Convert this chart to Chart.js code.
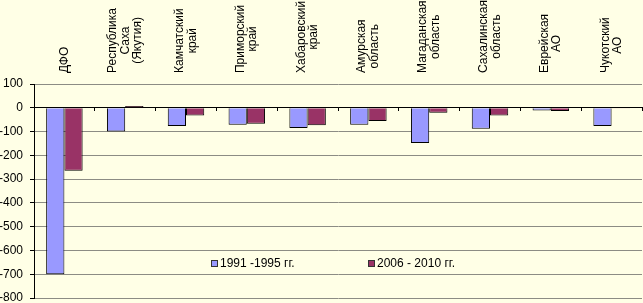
<!DOCTYPE html>
<html lang="ru">
<head>
    <meta charset="UTF-8">
    <title>Изменение численности населения ДФО</title>
    <script src="https://cdn.jsdelivr.net/npm/chart.js"></script>
    <style>
        body {
            margin: 0;
            background-color: #ffffe6;
        }
        .chart-container {
            width: 643px;
            height: 303px;
        }
    </style>
</head>
<body>
    <div class="chart-container">
        <canvas id="chart"></canvas>
    </div>

    <script>
        const regions = [
            ['ДФО'],
            ['Республика', 'Саха', '(Якутия)'],
            ['Камчатский', 'край'],
            ['Приморский', 'край'],
            ['Хабаровский', 'край'],
            ['Амурская', 'область'],
            ['Магаданская', 'область'],
            ['Сахалинская', 'область'],
            ['Еврейская', 'АО'],
            ['Чукотский', 'АО']
        ];
        const seriesNames = ['1991 -1995 гг.', '2006 - 2010 гг.'];
        const values1991 = [-700, -100, -77, -71, -85, -71, -148, -88, -11, -77];
        const values2006 = [-265, 7, -32, -67, -74, -56, -21, -32, -14, -3];
        const yMin = -800;
        const yMax = 100;
        const yStep = 100;

        const FONT = '"Liberation Sans", Arial, sans-serif';

        // rotated, centred multi-line category names above the plot
        const categoryLabels = {
            id: 'categoryLabels',
            afterDraw(chart) {
                const ctx = chart.ctx;
                const xScale = chart.scales.x;
                ctx.save();
                ctx.font = '12px ' + FONT;
                ctx.fillStyle = '#000';
                ctx.textAlign = 'center';
                ctx.textBaseline = 'middle';
                regions.forEach((lines, i) => {
                    const px = xScale.getPixelForValue(i);
                    const w = Math.max(...lines.map(l => ctx.measureText(l).width));
                    ctx.save();
                    ctx.translate(px, chart.chartArea.top - 11);
                    ctx.rotate(-Math.PI / 2);
                    lines.forEach((l, j) => {
                        ctx.fillText(l, w / 2, (j - (lines.length - 1) / 2) * 12.5);
                    });
                    ctx.restore();
                });
                ctx.restore();
            }
        };

        // legend sits inside the plot area, near the bottom
        const innerLegend = {
            id: 'innerLegend',
            afterDraw(chart) {
                const ctx = chart.ctx;
                const area = chart.chartArea;
                const y = area.bottom - 34;
                const xs = [area.left + 177, area.left + 334];
                ctx.save();
                ctx.font = '12px ' + FONT;
                ctx.textBaseline = 'middle';
                ctx.textAlign = 'left';
                chart.data.datasets.forEach((ds, i) => {
                    ctx.fillStyle = ds.backgroundColor;
                    ctx.fillRect(xs[i] + 0.5, y - 3.5, 6, 6);
                    ctx.strokeStyle = '#333';
                    ctx.lineWidth = 1;
                    ctx.strokeRect(xs[i] + 0.5, y - 3.5, 6, 6);
                    ctx.fillStyle = '#000';
                    ctx.fillText(ds.label, xs[i] + 9, y);
                });
                ctx.restore();
            }
        };

        new Chart(document.getElementById('chart'), {
            type: 'bar',
            data: {
                labels: regions.map(r => r.join(' ')),
                datasets: [
                    {
                        label: seriesNames[0],
                        data: values1991,
                        backgroundColor: '#9999ff',
                        borderColor: '#000',
                        borderWidth: 1,
                        categoryPercentage: 0.6,
                        barPercentage: 1
                    },
                    {
                        label: seriesNames[1],
                        data: values2006,
                        backgroundColor: '#993366',
                        borderColor: '#000',
                        borderWidth: 1,
                        categoryPercentage: 0.6,
                        barPercentage: 1
                    }
                ]
            },
            options: {
                responsive: true,
                maintainAspectRatio: false,
                animation: false,
                layout: { padding: { top: 84, right: 1, bottom: 5, left: 0 } },
                plugins: {
                    legend: { display: false },
                    tooltip: { enabled: false }
                },
                scales: {
                    x: {
                        position: { y: 0 },
                        offset: true,
                        afterFit: s => { s.height = 0; },
                        grid: {
                            offset: true,
                            drawOnChartArea: false,
                            tickLength: 3,
                            tickColor: '#000'
                        },
                        border: { color: '#000' },
                        ticks: { display: false }
                    },
                    y: {
                        min: yMin,
                        max: yMax,
                        afterFit: s => {
                            s.width = 34;
                            s.paddingTop = 0;
                            s.paddingBottom = 0;
                        },
                        ticks: {
                            stepSize: yStep,
                            color: '#000',
                            padding: 7,
                            font: { family: FONT, size: 12, lineHeight: 1 }
                        },
                        grid: {
                            color: ctx => ctx.tick && ctx.tick.value === 0 ? '#000' : '#8c8c84',
                            tickLength: 4,
                            tickColor: '#000'
                        },
                        border: { color: '#000' }
                    }
                }
            },
            plugins: [categoryLabels, innerLegend]
        });
    </script>
</body>
</html>
